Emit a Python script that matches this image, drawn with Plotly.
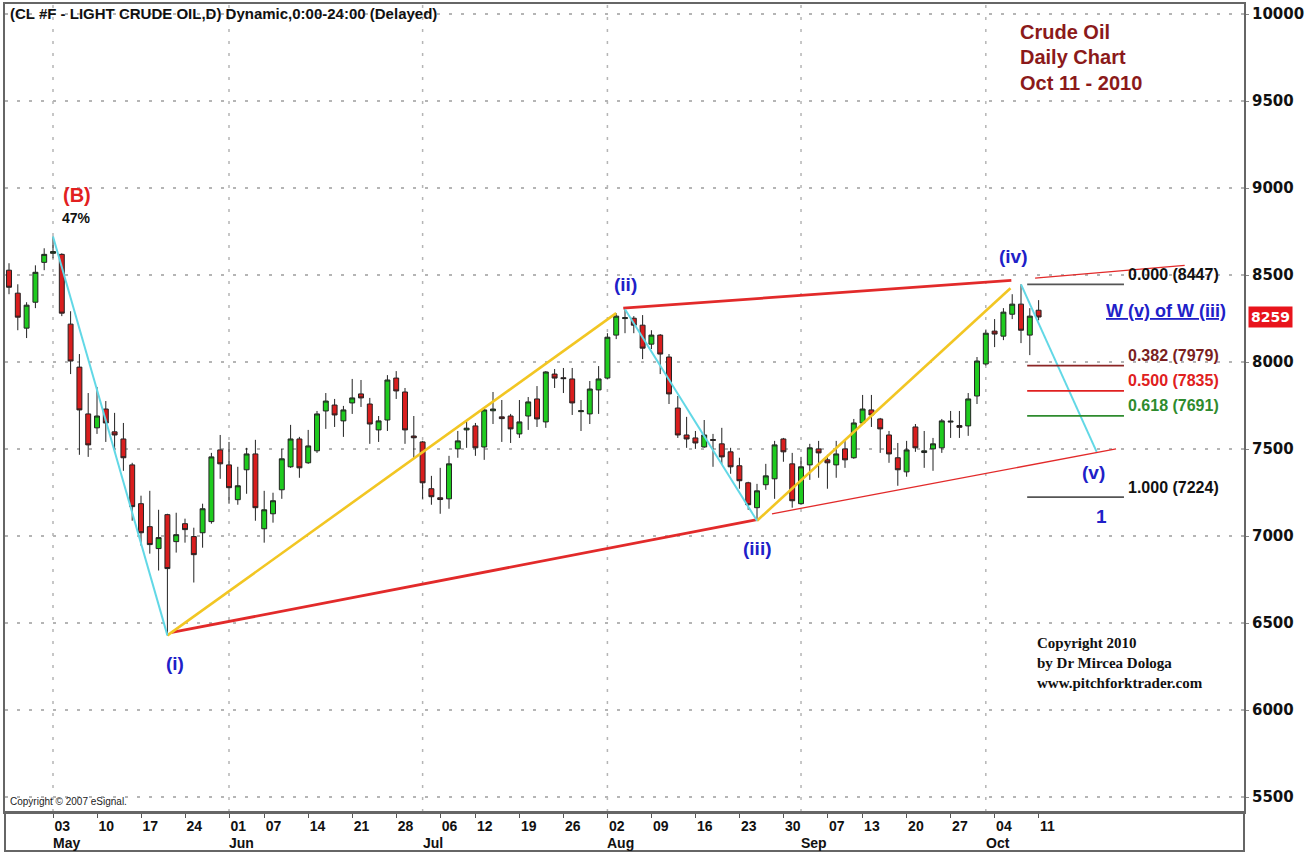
import plotly.graph_objects as go

# ---- data: trading-day index 0 = 26 Apr 2010 ... 117 = 11 Oct 2010 ----
opens = [8528, 8396, 8195, 8344, 8573, 8625, 8619, 8218, 7971, 7702,
         7622, 7730, 7599, 7558, 7409, 7186, 7054, 6928, 7123, 6968,
         7071, 6997, 7019, 7083, 7495, 7409, 7209, 7381, 7472, 7042,
         7128, 7266, 7398, 7558, 7421, 7490, 7719, 7753, 7662, 7765,
         7817, 7759, 7610, 7667, 7908, 7828, 7575, 7541, 7272, 7220,
         7214, 7501, 7610, 7633, 7512, 7720, 7685, 7690, 7587, 7690,
         7788, 7656, 7931, 7910, 7903, 7715, 7702, 7840, 7908, 8155,
         8250, 8252, 8212, 8103, 8155, 8029, 7736, 7581, 7564, 7512,
         7555, 7530, 7484, 7404, 7306, 7163, 7295, 7329, 7558, 7415,
         7186, 7409, 7501, 7438, 7409, 7501, 7450, 7650, 7725, 7673,
         7581, 7450, 7369, 7627, 7480, 7501, 7507, 7655, 7635, 7633,
         7805, 7989, 8178, 8149, 8275, 8333, 8155, 8298]
highs = [8568, 8447, 8344, 8556, 8654, 8722, 8625, 8292, 8046, 7822,
         7857, 7776, 7708, 7650, 7421, 7232, 7260, 7151, 7128, 7134,
         7100, 7048, 7186, 7478, 7581, 7541, 7398, 7507, 7553, 7260,
         7249, 7501, 7639, 7570, 7610, 7719, 7822, 7788, 7748, 7903,
         7897, 7794, 7690, 7925, 7948, 7851, 7690, 7547, 7346, 7392,
         7461, 7604, 7662, 7650, 7736, 7828, 7782, 7702, 7782, 7799,
         7862, 7948, 7960, 7966, 7966, 7782, 7891, 7977, 8166, 8281,
         8304, 8264, 8270, 8183, 8161, 8046, 7805, 7685, 7604, 7667,
         7587, 7622, 7507, 7450, 7312, 7300, 7415, 7547, 7564, 7478,
         7455, 7530, 7547, 7467, 7547, 7547, 7673, 7811, 7811, 7679,
         7604, 7535, 7547, 7644, 7604, 7564, 7673, 7719, 7719, 7822,
         8029, 8183, 8247, 8310, 8390, 8447, 8310, 8356]
lows = [8390, 8183, 8138, 8310, 8528, 8596, 8264, 7931, 7467, 7455,
        7587, 7541, 7478, 7375, 7088, 6945, 6899, 6802, 6429, 6905,
        6962, 6733, 6933, 7071, 7329, 7186, 7180, 7243, 7088, 6962,
        7077, 7214, 7392, 7335, 7415, 7478, 7616, 7627, 7570, 7702,
        7742, 7530, 7541, 7604, 7788, 7530, 7450, 7214, 7180, 7128,
        7157, 7450, 7507, 7461, 7438, 7644, 7541, 7535, 7564, 7610,
        7627, 7622, 7851, 7822, 7696, 7604, 7644, 7702, 7903, 8132,
        8166, 8166, 8017, 8075, 7931, 7759, 7564, 7507, 7501, 7507,
        7398, 7409, 7358, 7272, 7151, 7088, 7266, 7214, 7427, 7163,
        7180, 7323, 7335, 7272, 7335, 7392, 7444, 7644, 7627, 7478,
        7421, 7289, 7341, 7484, 7392, 7375, 7478, 7564, 7564, 7576,
        7759, 7980, 8086, 8126, 8247, 8109, 8040, 8240]
closes = [8430, 8258, 8327, 8516, 8619, 8635, 8281, 8006, 7725, 7524,
          7690, 7650, 7581, 7450, 7169, 7019, 6951, 6991, 6813, 7008,
          7037, 6893, 7157, 7455, 7415, 7278, 7289, 7472, 7163, 7151,
          7203, 7444, 7558, 7392, 7518, 7702, 7776, 7696, 7725, 7794,
          7794, 7644, 7662, 7897, 7834, 7610, 7565, 7306, 7226, 7210,
          7415, 7547, 7620, 7507, 7725, 7730, 7675, 7616, 7656, 7771,
          7673, 7943, 7908, 7905, 7765, 7720, 7845, 7903, 8143, 8264,
          8255, 8212, 8080, 8155, 8046, 7817, 7581, 7558, 7535, 7581,
          7550, 7455, 7398, 7318, 7180, 7260, 7346, 7524, 7484, 7203,
          7398, 7507, 7478, 7421, 7472, 7438, 7650, 7730, 7696, 7616,
          7472, 7381, 7495, 7507, 7490, 7530, 7662, 7660, 7625, 7788,
          8006, 8166, 8161, 8287, 8333, 8183, 8264, 8259]
day_idx = list(range(len(opens)))

week_tick_idx = [5, 10, 15, 20, 25, 29, 34, 39, 44, 49, 53, 58, 63, 68,
                 73, 78, 83, 88, 93, 97, 102, 107, 112, 117]
week_tick_text = ["03", "10", "17", "24", "01", "07", "14", "21", "28",
                  "06", "12", "19", "26", "02", "09", "16", "23", "30",
                  "07", "13", "20", "27", "04", "11"]
month_idx = [5, 25, 47, 68, 90, 111]
month_text = ["May", "Jun", "Jul", "Aug", "Sep", "Oct"]
price_ticks = [5500, 6000, 6500, 7000, 7500, 8000, 8500, 9000, 9500, 10000]
price_tick_text = ["5500", "6000", "6500", "7000", "7500", "8000", "8500",
                   "9000", "9500", "10000"]

# wave lines (index, price)
cyan_segs = [([5, 18], [8722, 6429]), ([70, 85], [8304, 7088]),
             ([115, 123.6], [8447, 7484])]
yellow_segs = [([18, 69], [6429, 8281]), ([85, 113.8], [7088, 8424])]
red_thick_segs = [([18.5, 85], [6446, 7094]), ([69.8, 113.9], [8310, 8470])]
red_thin_segs = [([86.7, 125.8], [7128, 7501]), ([116.6, 133.6], [8482, 8556])]

fib_levels = [8447, 7979, 7835, 7691, 7224]
fib_labels = ["0.000 (8447)", "0.382 (7979)", "0.500 (7835)",
              "0.618 (7691)", "1.000 (7224)"]
fib_line_colors = ["#555555", "#8B2525", "#E02020", "#2E8B2E", "#555555"]
fib_text_colors = ["#111111", "#7A1F1F", "#E02020", "#2E8B2E", "#111111"]
fib_x = [115.7, 126.7]

wave_labels = ["(i)", "(ii)", "(iii)", "(iv)", "(v)", "1"]
wave_label_x = [18.9, 70.0, 85.1, 114.1, 123.2, 124.2]
wave_label_y = [6268, 8447, 6928, 8608, 7364, 7111]

last_price = 8259

fig = go.Figure()

fig.add_trace(go.Candlestick(
    x=day_idx, open=opens, high=highs, low=lows, close=closes,
    increasing=dict(fillcolor="#1FCB1F", line=dict(color="#222222", width=1)),
    decreasing=dict(fillcolor="#D91E1E", line=dict(color="#222222", width=1)),
    showlegend=False, hoverinfo="skip"))

def add_segs(segs, color, width):
    for xs, ys in segs:
        fig.add_trace(go.Scatter(x=xs, y=ys, mode="lines",
                                 line=dict(color=color, width=width),
                                 showlegend=False, hoverinfo="skip"))

add_segs(red_thick_segs, "#E22A2A", 2.8)
add_segs(yellow_segs, "#F2C623", 2.6)
add_segs(cyan_segs, "#62D8E6", 2.0)
add_segs(red_thin_segs, "#E22A2A", 1.3)

for lvl, lab, lc, tc in zip(fib_levels, fib_labels, fib_line_colors, fib_text_colors):
    fig.add_trace(go.Scatter(x=fib_x, y=[lvl, lvl], mode="lines",
                             line=dict(color=lc, width=1.8),
                             showlegend=False, hoverinfo="skip"))
    fig.add_annotation(x=126.9, y=lvl, xref="x", yref="y", text=lab,
                       xanchor="left", yanchor="middle", yshift=10,
                       showarrow=False,
                       font=dict(family="Liberation Sans", size=16,
                                 color=tc, weight="bold"))

# month grid lines
for mi in month_idx:
    fig.add_shape(type="line", x0=mi, x1=mi, y0=0, y1=1, xref="x", yref="paper",
                  line=dict(color="#B5B5B5", width=1.5, dash="3px,9px"), layer="below")

wave_font = dict(family="Liberation Sans", size=19, color="#2020C8", weight="bold")
for t, xx, yy in zip(wave_labels, wave_label_x, wave_label_y):
    fig.add_annotation(x=xx, y=yy, text=t, showarrow=False, font=wave_font)

fig.add_annotation(x=7.7, y=8963, text="(B)", showarrow=False,
                   font=dict(family="Liberation Sans", size=20, color="#E22020", weight="bold"))
fig.add_annotation(x=7.7, y=8826, text="47%", showarrow=False,
                   font=dict(family="Liberation Sans", size=14, color="#111111", weight="bold"))
fig.add_annotation(x=124.4, y=8292, text="<u>W (v) of W (iii)</u>", xanchor="left",
                   showarrow=False,
                   font=dict(family="Liberation Sans", size=18, color="#2020C8", weight="bold"))

# title & texts
fig.add_annotation(xref="paper", yref="paper", x=0.0024, y=0.9877, xanchor="left",
                   yanchor="middle",
                   text="(CL #F - LIGHT CRUDE OIL,D) Dynamic,0:00-24:00 (Delayed)",
                   showarrow=False,
                   font=dict(family="Liberation Sans", size=15, color="#111111", weight="bold"))
for i, line in enumerate(["Crude Oil", "Daily Chart", "Oct 11 - 2010"]):
    fig.add_annotation(xref="paper", yref="paper", x=(1018 - 5) / 1239,
                       y=1 - (30 + 25.5 * i - 2) / 810, xanchor="left", yanchor="middle",
                       text=line, showarrow=False,
                       font=dict(family="Liberation Sans", size=20, color="#8B1A1A", weight="bold"))
for i, line in enumerate(["Copyright 2010", "by Dr Mircea Dologa", "www.pitchforktrader.com"]):
    fig.add_annotation(xref="paper", yref="paper", x=(1035 - 5) / 1239,
                       y=1 - (643 + 20 * i - 2) / 810, xanchor="left", yanchor="middle",
                       text=line, showarrow=False,
                       font=dict(family="Liberation Serif", size=15, color="#111111", weight="bold"))
fig.add_annotation(xref="paper", yref="paper", x=(8 - 5) / 1239, y=1 - (801 - 2) / 810,
                   xanchor="left", yanchor="middle", text="Copyright © 2007 eSignal.",
                   showarrow=False,
                   font=dict(family="Liberation Sans", size=10, color="#222222"))

# month labels under axis
for mi, mt in zip(month_idx, month_text):
    fig.add_annotation(x=mi, y=-(843 - 812) / 810, xref="x", yref="paper",
                       xanchor="left", yanchor="middle", xshift=-2, text=mt,
                       showarrow=False,
                       font=dict(family="Liberation Sans", size=14, color="#111111", weight="bold"))

# last price badge
fig.add_annotation(xref="paper", yref="y", x=1 + 4 / 1239, y=last_price, xanchor="left",
                   text="<b>%d</b>" % last_price, showarrow=False, bgcolor="#E8141C",
                   borderpad=2,
                   font=dict(family="DejaVu Sans", size=14, color="white"))

# bottom axis strip box
fig.add_shape(type="rect", xref="paper", yref="paper", x0=0, x1=1,
              y0=-(851 - 812) / 810, y1=0, line=dict(color="#666666", width=2))

fig.update_layout(
    width=1313, height=857,
    margin=dict(l=5, r=69, t=2, b=45),
    paper_bgcolor="white", plot_bgcolor="white",
    boxgap=0.2,
    xaxis=dict(range=[-0.455, 140.34], rangeslider=dict(visible=False),
               tickmode="array", tickvals=week_tick_idx, ticktext=week_tick_text,
               ticklabelposition="outside right",
               ticks="outside", ticklen=4, tickcolor="#555555",
               showgrid=False, zeroline=False,
               showline=True, mirror=True, linecolor="#666666", linewidth=2,
               tickfont=dict(family="Liberation Sans", size=14, color="#111111", weight="bold")),
    yaxis=dict(range=[5414, 10058], side="right", tickmode="array",
               tickvals=price_ticks, ticktext=price_tick_text,
               ticks="outside", ticklen=3, tickcolor="#888888",
               showgrid=True, gridcolor="#B5B5B5", griddash="3px,9px", gridwidth=1.5,
               zeroline=False, showline=True, mirror=True, linecolor="#666666", linewidth=2,
               tickfont=dict(family="DejaVu Sans", size=15, color="#111111", weight="bold")),
)

fig.write_html("out.html", config={"displayModeBar": False},
               post_script="document.body.style.margin='0';")
